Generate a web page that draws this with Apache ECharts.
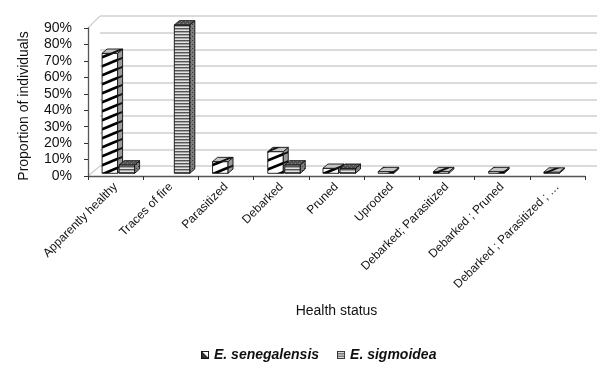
<!DOCTYPE html>
<html><head><meta charset="utf-8">
<script src="https://cdn.jsdelivr.net/npm/echarts@6/dist/echarts.min.js"></script>
<style>html,body{margin:0;padding:0;background:#fff}#c{width:600px;height:366px}</style>
</head><body><div id="c"></div>
<script>
// ---- data ----
const categories = ['Apparently healthy','Traces of fire','Parasitized','Debarked','Pruned','Uprooted','Debarked; Parasitized','Debarked ; Pruned','Debarked ; Parasitized ; \u2026'];
const seriesNames = ['E. senegalensis','E. sigmoidea'];
const senegalensis = [72, 0, 7, 13, 3, 1, 1, 1, 0.7];
const sigmoidea = [5, 89, 0, 5, 3, 0, 0, 0, 0];
const yMin = 0, yMax = 90, yStep = 10;
const xTitle = 'Health status';
const yTitle = 'Proportion of individuals';

// ---- layout ----
const FONT = 'Liberation Sans, Arial, sans-serif';
const FRONT = {left:88, right:15, top:28, bottom:190};
const BACK = {left:100, right:3, top:16, bottom:200};
const BARS = {left:91, right:12, top:23.3, bottom:192.7};

// ---- patterns ----
function tile(w,h,bg,draw){const c=document.createElement('canvas');c.width=w;c.height=h;const g=c.getContext('2d');g.fillStyle=bg;g.fillRect(0,0,w,h);if(draw)draw(g,w,h);return c;}
function diag(g,w,h,color,lw){g.strokeStyle=color;g.lineWidth=lw;for(const off of [-h,0,h]){g.beginPath();g.moveTo(-1,h+off+h/w);g.lineTo(w+1,off-h/w);g.stroke();}}
function pat(c){return {image:c,repeat:'repeat'};}
const senFront = pat(tile(22,9,'#ffffff',(g,w,h)=>diag(g,w,h,'#000',2.6)));
const senSide = pat(tile(22,9,'#9a9a9a',(g,w,h)=>diag(g,w,h,'#111',2)));
const senTop = pat(tile(22,9,'#c4c4c4',(g,w,h)=>diag(g,w,h,'#111',2)));
const sigFront = pat(tile(4,3,'#e2e2e2',(g)=>{g.fillStyle='#555';g.fillRect(0,1,4,1);g.fillStyle='#a4a4a4';g.fillRect(0,2,4,1);}));
const sigSide = pat(tile(4,4,'#7e7e7e',(g)=>{g.fillStyle='#3a3a3a';g.fillRect(0,0,1,1);g.fillRect(2,2,1,1);}));
const sigTop = pat(tile(4,4,'#555',(g)=>{g.fillStyle='#858585';g.fillRect(1,1,1,1);g.fillRect(3,3,1,1);}));

function iconSen(){const c=tile(9,9,'#fff',(g)=>{g.fillStyle='#333';g.beginPath();g.moveTo(1,1);g.lineTo(8,8);g.lineTo(1,8);g.closePath();g.fill();g.strokeStyle='#111';g.lineWidth=1;g.strokeRect(0.5,0.5,8,8);g.beginPath();g.moveTo(1,1);g.lineTo(8,8);g.stroke();});return 'image://'+c.toDataURL();}
function iconSig(){const c=tile(9,9,'#fff',(g)=>{g.fillStyle='#444';g.fillRect(1,2,7,1);g.fillRect(1,4,7,1);g.fillRect(1,6,7,1);g.strokeStyle='#333';g.lineWidth=1;g.strokeRect(0.5,0.5,8,8);});return 'image://'+c.toDataURL();}

const faces = [
  {front:senFront, side:senSide, top:senTop, off:-0.299},
  {front:sigFront, side:sigSide, top:sigTop, off:0.009}
];
function renderBox(sIdx){
  const f = faces[sIdx];
  return function(params, api){
    const i = api.value(0), v = api.value(1);
    if(!(v>0)) return null;
    const b = api.coord([i,0]), t = api.coord([i,v]);
    const band = api.size([1,0])[0];
    const w = band*0.281, dx = band*0.09, dy = -4.3;
    const x0 = b[0] + band*f.off, x1 = x0 + w, yB = b[1], yT = t[1];
    const st = {stroke:'#111', lineWidth:0.9, lineJoin:'round'};
    return {type:'group', children:[
      {type:'polygon', shape:{points:[[x0,yT],[x1,yT],[x1,yB],[x0,yB]]}, style:Object.assign({fill:f.front},st)},
      {type:'polygon', shape:{points:[[x1,yT],[x1+dx,yT+dy],[x1+dx,yB+dy],[x1,yB]]}, style:Object.assign({fill:f.side},st)},
      {type:'polygon', shape:{points:[[x0,yT],[x0+dx,yT+dy],[x1+dx,yT+dy],[x1,yT]]}, style:Object.assign({fill:f.top},st)}
    ]};
  };
}

const chart = echarts.init(document.getElementById('c'), null, {renderer:'canvas'});
const hidden = {show:false};
const option = {
  animation:false,
  textStyle:{fontFamily:FONT},
  grid:[
    Object.assign({containLabel:false}, BACK),
    Object.assign({containLabel:false}, FRONT),
    Object.assign({containLabel:false}, BARS)
  ],
  xAxis:[
    {gridIndex:0, type:'category', data:categories, axisLine:hidden, axisTick:hidden, axisLabel:hidden, splitLine:hidden},
    {gridIndex:1, type:'category', data:categories,
     axisLine:{show:true, lineStyle:{color:'#555', width:1.3}},
     axisTick:{show:true, length:4, lineStyle:{color:'#333'}},
     axisLabel:{interval:0, rotate:45, margin:9, fontSize:12, color:'#111', fontFamily:FONT},
     name:xTitle, nameLocation:'middle', nameGap:128, nameTextStyle:{fontSize:14, color:'#111', fontFamily:FONT}},
    {gridIndex:2, type:'category', data:categories, axisLine:hidden, axisTick:hidden, axisLabel:hidden, splitLine:hidden}
  ],
  yAxis:[
    {gridIndex:0, type:'value', min:yMin, max:yMax, interval:yStep, axisLine:hidden, axisTick:hidden, axisLabel:hidden,
     splitLine:{show:true, lineStyle:{color:'#cfcfcf', width:1.5}}},
    {gridIndex:1, type:'value', min:yMin, max:yMax, interval:yStep,
     axisLine:{show:true, lineStyle:{color:'#555', width:1.3}},
     axisTick:{show:true, length:4, lineStyle:{color:'#333'}},
     axisLabel:{margin:16, fontSize:14, color:'#111', fontFamily:FONT, formatter:'{value}%'},
     splitLine:hidden,
     name:yTitle, nameLocation:'middle', nameGap:57, nameTextStyle:{fontSize:14, color:'#111', fontFamily:FONT, padding:[0,8,0,0]}},
    {gridIndex:2, type:'value', min:yMin, max:yMax, interval:yStep, axisLine:hidden, axisTick:hidden, axisLabel:hidden, splitLine:hidden}
  ],
  legend:{
    left:196, top:343, itemWidth:8, itemHeight:8, itemGap:18,
    textStyle:{fontSize:14, fontWeight:'bold', fontStyle:'italic', color:'#111', fontFamily:FONT},
    data:[{name:seriesNames[0], icon:iconSen()},{name:seriesNames[1], icon:iconSig()}]
  },
  series:[
    {name:seriesNames[0], type:'custom', xAxisIndex:2, yAxisIndex:2, renderItem:renderBox(0),
     itemStyle:{color:'#ffffff'}, encode:{x:0,y:1}, data:senegalensis.map((v,i)=>[i,v])},
    {name:seriesNames[1], type:'custom', xAxisIndex:2, yAxisIndex:2, renderItem:renderBox(1),
     itemStyle:{color:'#999999'}, encode:{x:0,y:1}, data:sigmoidea.map((v,i)=>[i,v])}
  ]
};
chart.setOption(option);

// side-wall edges (decoration, from axis pixel positions)
const yTopF = chart.convertToPixel({yAxisIndex:1}, yMax), yBotF = chart.convertToPixel({yAxisIndex:1}, yMin);
const yTopB = chart.convertToPixel({yAxisIndex:0}, yMax), yBotB = chart.convertToPixel({yAxisIndex:0}, yMin);
chart.setOption({graphic:[
  {type:'line', z:-1, shape:{x1:FRONT.left, y1:yTopF, x2:BACK.left, y2:yTopB}, style:{stroke:'#cfcfcf', lineWidth:1.2}},
  {type:'line', z:-1, shape:{x1:FRONT.left, y1:yBotF, x2:BACK.left, y2:yBotB}, style:{stroke:'#cfcfcf', lineWidth:1.2}}
]});
</script></body></html>
